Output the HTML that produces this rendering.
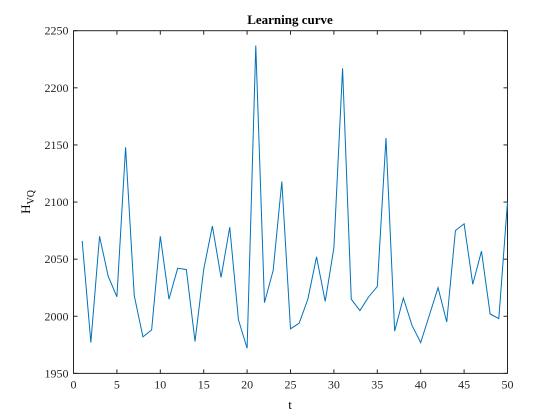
<!DOCTYPE html>
<html><head><meta charset="utf-8"><style>
body{margin:0;background:#fff;}
svg{display:block;font-family:"Liberation Serif",serif;}
</style></head><body>
<svg id="chart" width="560" height="420" viewBox="0 0 560 420">
<rect width="560" height="420" fill="#fff"/>
<text x="290" y="24" text-anchor="middle" font-weight="bold" font-size="13">Learning curve</text>
<g id="axes"></g>
<text x="290" y="409" text-anchor="middle" font-size="13">t</text>
<text transform="translate(30,202) rotate(-90)" text-anchor="middle" font-size="13">H<tspan font-size="10" dy="4">VQ</tspan></text>
</svg>
<script>
const tValues=[1,2,3,4,5,6,7,8,9,10,11,12,13,14,15,16,17,18,19,20,21,22,23,24,25,26,27,28,29,30,31,32,33,34,35,36,37,38,39,40,41,42,43,44,45,46,47,48,49,50];
const hValues=[2066,1977,2070,2035,2017,2148,2018,1982,1988,2070,2015,2042,2041,1978,2041,2079,2034,2078,1997,1972,2237,2012,2040,2118,1989,1994,2015,2052,2013,2060,2217,2015,2005,2017,2026,2156,1987,2016,1992,1977,2001,2025,1995,2075,2081,2028,2057,2002,1998,2100];
const xTicks=[0,5,10,15,20,25,30,35,40,45,50];
const yTicks=[1950,2000,2050,2100,2150,2200,2250];
const L=73.5,R=507.5,T=30.7,B=373.4;
const xs=v=>L+(v-0)/50*(R-L);
const ys=v=>B-(v-1950)/300*(B-T);
const NS="http://www.w3.org/2000/svg";
const g=document.getElementById('axes');
function mk(tag,attrs){const e=document.createElementNS(NS,tag);for(const k in attrs)e.setAttribute(k,attrs[k]);g.appendChild(e);return e;}
const box=mk('rect',{x:L,y:T,width:R-L,height:B-T,fill:'none',stroke:'#262626','stroke-width':1});


xTicks.forEach(v=>{
 const x=xs(v);
 const t1=mk('line',{x1:x,x2:x,y1:B,y2:B-4,stroke:'#262626'});
 
 
 const t2=mk('line',{x1:x,x2:x,y1:T,y2:T+4,stroke:'#262626'});
 
 
 const tx=mk('text',{x:x,y:B+15,'text-anchor':'middle','font-size':12,fill:'#262626'});
 tx.textContent=v;
 
 
});
yTicks.forEach(v=>{
 const y=ys(v);
 const t1=mk('line',{x1:L,x2:L+4,y1:y,y2:y,stroke:'#262626'});
 
 
 const t2=mk('line',{x1:R,x2:R-4,y1:y,y2:y,stroke:'#262626'});
 
 
 const tx=mk('text',{x:L-5,y:y+4,'text-anchor':'end','font-size':12,fill:'#262626'});
 tx.textContent=v;
 
 
});
const pts=tValues.map((t,i)=>xs(t).toFixed(2)+','+ys(hValues[i]).toFixed(2)).join(' ');
const line=mk('polyline',{points:pts,fill:'none',stroke:'#0072bd','stroke-width':1});


</script>
</body></html>
